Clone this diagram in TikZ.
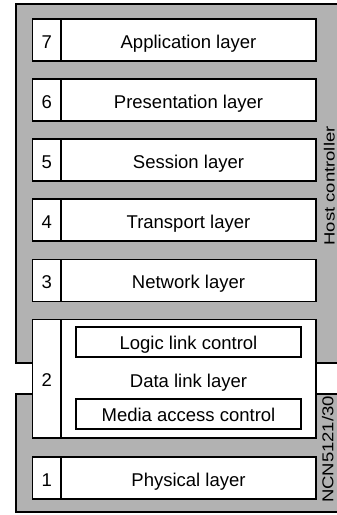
\documentclass[tikz,border=0pt]{standalone}
\usepackage{fontspec}
\setmainfont{Liberation Sans}
\definecolor{bggray}{RGB}{178,178,178}
\tikzset{
  txt/.style={font=\fontsize{18.5}{22}\selectfont},
  lay/.style={txt, draw, line width=1.9pt, fill=white, inner sep=0pt,
    minimum height=42pt, text height=16pt, text depth=0pt},
  numbox/.style={lay, minimum width=28.5pt},
  namebox/.style={lay, minimum width=255pt},
  subbox/.style={txt, draw, line width=1.9pt, fill=white, inner sep=0pt,
    minimum width=225pt, minimum height=30pt, text height=15pt, text depth=0pt},
  plain/.style={txt, inner sep=0pt, text height=13.2pt, text depth=0pt},
  side/.style={txt, inner sep=0pt, rotate=90, anchor=base},
  bgline/.style={line width=2pt},
}
\begin{document}
\begin{tikzpicture}[x=1pt,y=-1pt]
\useasboundingbox (0,0) rectangle (337,515);
\clip (0,0) rectangle (337,515);
% Host controller background
\fill[bggray] (16.3,4.3) rectangle (345,362.5);
\draw[bgline] (345,4.3) -- (16.3,4.3) -- (16.3,362.5) -- (345,362.5);
% NCN background
\fill[bggray] (16.3,394) rectangle (345,512);
\draw[bgline] (345,394) -- (16.3,394) -- (16.3,512) -- (345,512);
% side labels
\node[side] (hc) at (334.5,186) {\scalebox{1}[0.8]{Host controller}};
\node[side] (ncn) at (333.3,449.5) {\scalebox{1}[0.85]{NCN5121/30}};
% layers
\node[numbox] (n7) at (46.75,40) {7};
\node[namebox] (l7) at (188.5,40) {Application layer};
\node[numbox] (n6) at (46.75,100) {6};
\node[namebox] (l6) at (188.5,100) {Presentation layer};
\node[numbox] (n5) at (46.75,160) {5};
\node[namebox] (l5) at (188.5,160) {Session layer};
\node[numbox] (n4) at (46.75,220) {4};
\node[namebox] (l4) at (188.5,220) {Transport layer};
\node[numbox] (n3) at (46.75,280.5) {3};
\node[namebox] (l3) at (188.5,280.5) {Network layer};
\node[numbox, minimum height=118.5pt] (n2) at (46.75,378.75) {2};
\node[namebox, minimum height=118.5pt] (l2) at (188.5,378.75) {};
\node[subbox] (llc) at (188.5,342) {Logic link control};
\node[plain] (dll) at (188.5,380.5) {Data link layer};
\node[subbox] (mac) at (188.5,414) {Media access control};
\node[numbox] (n1) at (46.75,478) {1};
\node[namebox] (l1) at (188.5,478) {Physical layer};
\end{tikzpicture}
\end{document}
